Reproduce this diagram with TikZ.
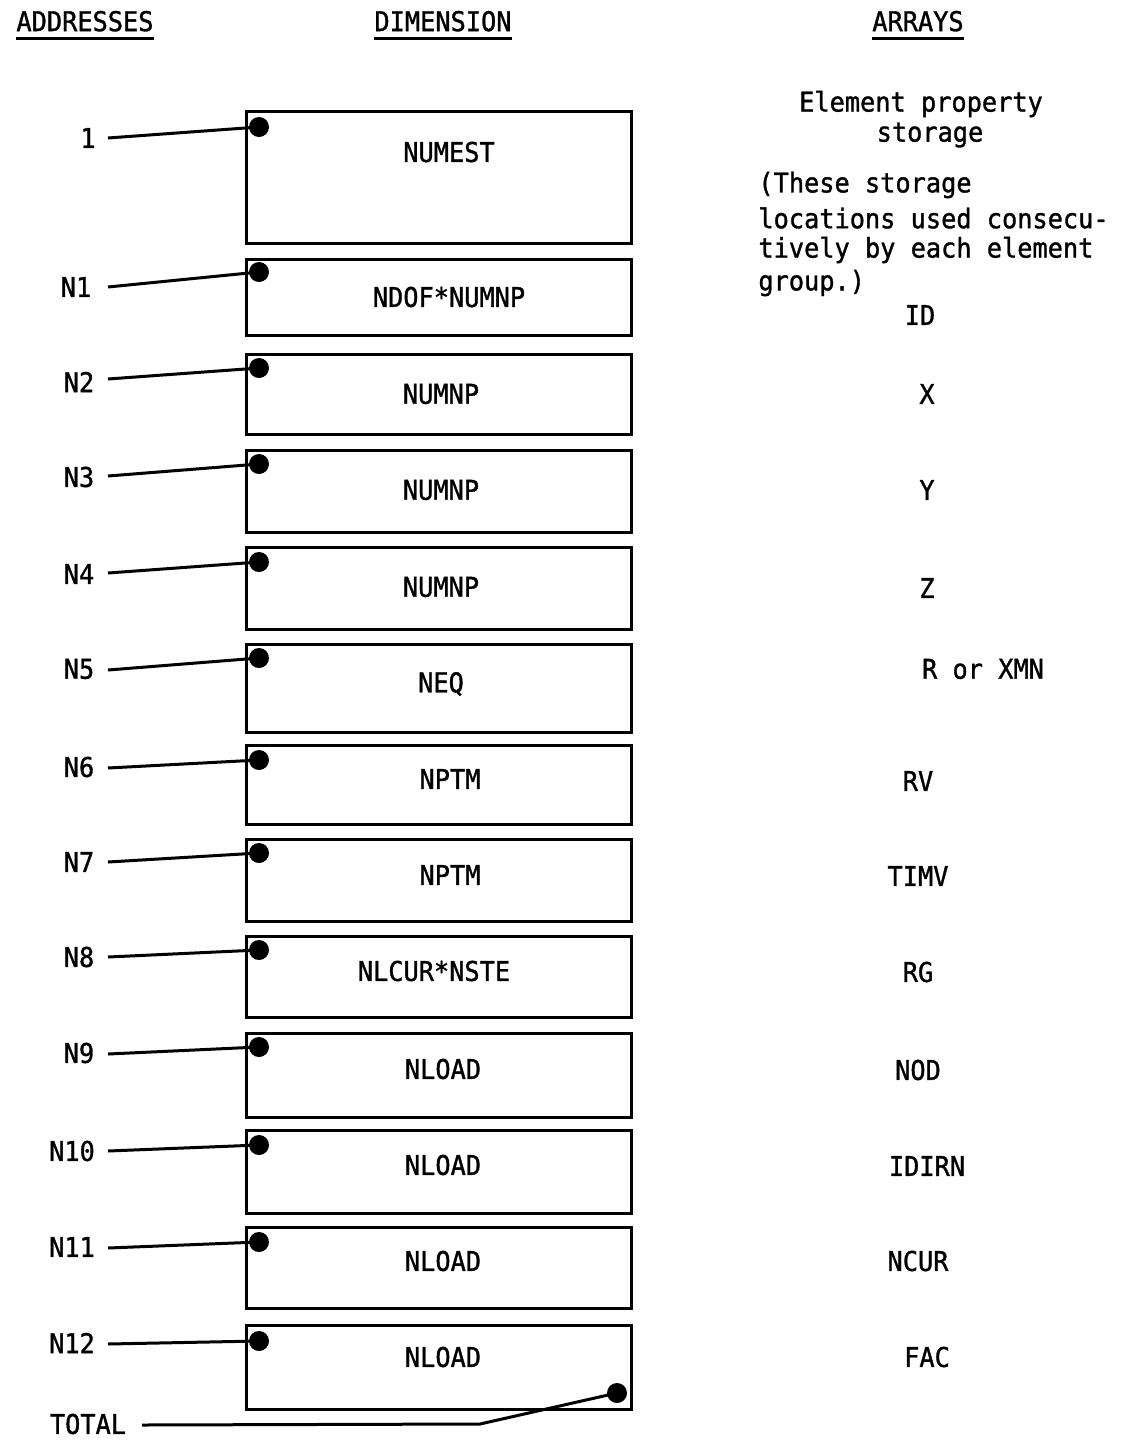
\documentclass[tikz,border=0pt]{standalone}
\usepackage{fontspec}
\setmainfont[FakeStretch=0.93,FakeBold=1.2]{DejaVu Sans Mono}
\begin{document}
\begin{tikzpicture}[x=0.5pt,y=-0.5pt,
  txt/.style={font=\fontsize{13.6}{16}\selectfont, inner sep=0pt},
  hdr/.style={txt, text depth=0pt},
  dimbox/.style={draw, line width=1.5pt, anchor=north west, minimum width=192.5pt, inner sep=0pt},
  dotmark/.style={circle, fill=black, minimum size=10pt, inner sep=0pt},
  lead/.style={line width=1.5pt}]
\useasboundingbox (0,0) rectangle (1147,1441);
% headers
\node[hdr] (hA) at (85,21) {ADDRESSES};
\node[hdr] (hD) at (443,21) {DIMENSION};
\node[hdr] (hR) at (918,21) {ARRAYS};
\foreach \h in {hA,hD,hR}
  \draw[line width=1.2pt] ([yshift=-3.5pt]\h.south west) -- ([yshift=-3.5pt]\h.south east);
% boxes
\foreach \i/\top/\bot/\lx/\ly/\lab in {
  0/110/242/449/152/NUMEST,
  1/258/334/449/297/NDOF*NUMNP,
  2/353/433/441/394/NUMNP,
  3/449/531/441/490/NUMNP,
  4/546/628/441/587/NUMNP,
  5/643/731/441/684/NEQ,
  6/744/823/450/779/NPTM,
  7/838/920/450/875/NPTM,
  8/935/1016/434/971/NLCUR*NSTE,
  9/1032/1116/443/1069/NLOAD,
  10/1129/1212/443/1165/NLOAD,
  11/1226/1307/443/1261/NLOAD,
  12/1324/1408/443/1357/NLOAD}{
  \pgfmathsetmacro{\hh}{(\bot-\top)*0.5}
  \node[dimbox, minimum height=\hh pt] (box\i) at (245,\top) {};
  \node[txt] (dim\i) at (\lx,\ly) {\lab};
}
% address labels, dots and leads
\foreach \i/\ax/\ay/\sy/\dy/\lab in {
  0/88/138/138/127/1,
  1/76/287/287/272/N1,
  2/79/382/379/368/N2,
  3/79/477/476/464/N3,
  4/79/574/573/562/N4,
  5/79/669/670/658/N5,
  6/79/767/768/760/N6,
  7/79/862/862/853/N7,
  8/79/957/957/950/N8,
  9/79/1053/1054/1047/N9,
  10/72/1151/1151/1145/N10,
  11/72/1247/1248/1242/N11,
  12/72/1343/1344/1341/N12}{
  \node[txt] (adr\i) at (\ax,\ay) {\lab};
  \node[dotmark] (dot\i) at (259,\dy) {};
  \coordinate (st\i) at (108,\sy);
  \draw[lead] (st\i) -- (dot\i.center);
}
% total
\node[txt] (total) at (88,1424) {TOTAL};
\node[dotmark] (dotT) at (617,1393) {};
\coordinate (stT) at (142,1425);
\coordinate (knee) at (480,1424);
\draw[lead] (stT) -- (knee) -- (dotT.center);
% arrays column
\node[txt] (ep1) at (921,104) {Element property};
\node[txt] (ep2) at (930,135) {storage};
\node[txt, anchor=west] (n1) at (758,185) {(These storage};
\node[txt, anchor=west] (n2) at (758,218) {locations used consecu-};
\node[txt, anchor=west] (n3) at (758,250) {tively by each element};
\node[txt, anchor=west] (n4) at (758,283) {group.)};
\foreach \n/\x/\y/\lab in {
  aID/920/315/ID, aX/927/394/X, aY/927/490/Y, aZ/927/588/Z,
  aR/983/669/R or XMN, aRV/918/781/RV, aT/918/876/TIMV, aRG/918/972/RG,
  aNOD/918/1070/NOD, aID2/927/1166/IDIRN, aNC/918/1261/NCUR, aF/927/1357/FAC}{
  \node[txt] (\n) at (\x,\y) {\lab};
}
\end{tikzpicture}
\end{document}
